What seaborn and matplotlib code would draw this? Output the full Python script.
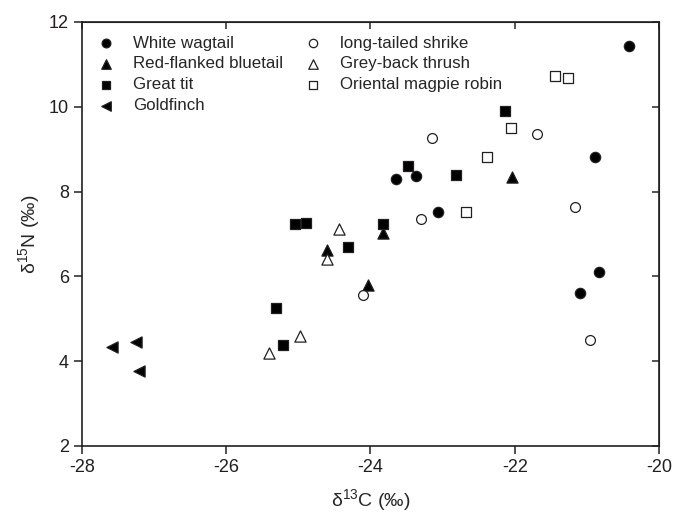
import matplotlib
matplotlib.use("Agg")
import matplotlib.pyplot as plt
import seaborn as sns

# delta 13C / delta 15N values, one pair of lists per species
wagtail_c = [-23.65, -23.37, -23.06, -20.89, -20.83, -21.09, -20.42]
wagtail_n = [8.29, 8.37, 7.51, 8.82, 6.10, 5.60, 11.44]

bluetail_c = [-22.04, -23.83, -24.03, -24.60]
bluetail_n = [8.35, 7.03, 5.80, 6.62]

tit_c = [-23.48, -22.82, -22.13, -23.82, -24.31, -25.04, -24.89, -25.31, -25.21]
tit_n = [8.61, 8.38, 9.91, 7.24, 6.70, 7.24, 7.26, 5.25, 4.37]

goldfinch_c = [-27.59, -27.25, -27.21]
goldfinch_n = [4.33, 4.45, 3.76]

shrike_c = [-23.15, -21.69, -23.30, -21.16, -24.10, -20.96]
shrike_n = [9.27, 9.35, 7.35, 7.64, 5.56, 4.50]

thrush_c = [-24.44, -24.61, -25.41, -24.98]
thrush_n = [7.11, 6.41, 4.19, 4.59]

robin_c = [-21.44, -21.26, -22.05, -22.38, -22.67]
robin_n = [10.73, 10.69, 9.50, 8.82, 7.51]

sns.set_style("ticks")
plt.rcParams['font.family'] = ['Liberation Sans', 'DejaVu Sans']
plt.rcParams['mathtext.default'] = 'regular'
plt.rcParams['axes.unicode_minus'] = False

fig = plt.figure(figsize=(6.74, 5.16), dpi=100)
ax = fig.add_axes([0.1217, 0.1357, 0.856, 0.8217])

# (label, x, y, marker, face, size) -- order gives the 2-column legend layout
groups = [
    ('White wagtail', wagtail_c, wagtail_n, 'o', 'black', 55),
    ('Red-flanked bluetail', bluetail_c, bluetail_n, '^', 'black', 65),
    ('Great tit', tit_c, tit_n, 's', 'black', 45),
    ('Goldfinch', goldfinch_c, goldfinch_n, '<', 'black', 65),
    ('long-tailed shrike', shrike_c, shrike_n, 'o', 'white', 50),
    ('Grey-back thrush', thrush_c, thrush_n, '^', 'white', 65),
    ('Oriental magpie robin', robin_c, robin_n, 's', 'white', 45),
]

for label, xs, ys, mk, face, s in groups:
    sns.scatterplot(x=xs, y=ys, marker=mk, s=s, color=face, edgecolor='#231f20',
                    linewidth=0.9, label=label, ax=ax, zorder=3)

ax.set_xlim(-28, -20)
ax.set_ylim(2, 12)
ax.set_xticks(range(-28, -19, 2))
ax.set_yticks(range(2, 13, 2))
ax.tick_params(direction='out', length=6, width=1.1, labelsize=13, colors='#231f20')
for sp in ax.spines.values():
    sp.set_linewidth(1.2)
    sp.set_color('#231f20')
    sp.set_visible(True)

# inward ticks on the top and right spines
top = ax.secondary_xaxis('top')
top.set_xticks(range(-28, -19, 2))
top.tick_params(direction='in', length=5, width=1.1, labeltop=False)
right = ax.secondary_yaxis('right')
right.set_yticks(range(2, 13, 2))
right.tick_params(direction='in', length=5, width=1.1, labelright=False)

ax.set_xlabel('δ$^{13}$C (‰)', fontsize=14, labelpad=8)
ax.set_ylabel('δ$^{15}$N (‰)', fontsize=14, labelpad=5)

ax.legend(ncol=2, loc='upper left', frameon=False, fontsize=12.2,
          borderaxespad=0.4, handletextpad=1.0, columnspacing=1.2,
          labelspacing=0.35, handlelength=1.2, markerscale=0.85)

plt.savefig('out.png', dpi=100)
